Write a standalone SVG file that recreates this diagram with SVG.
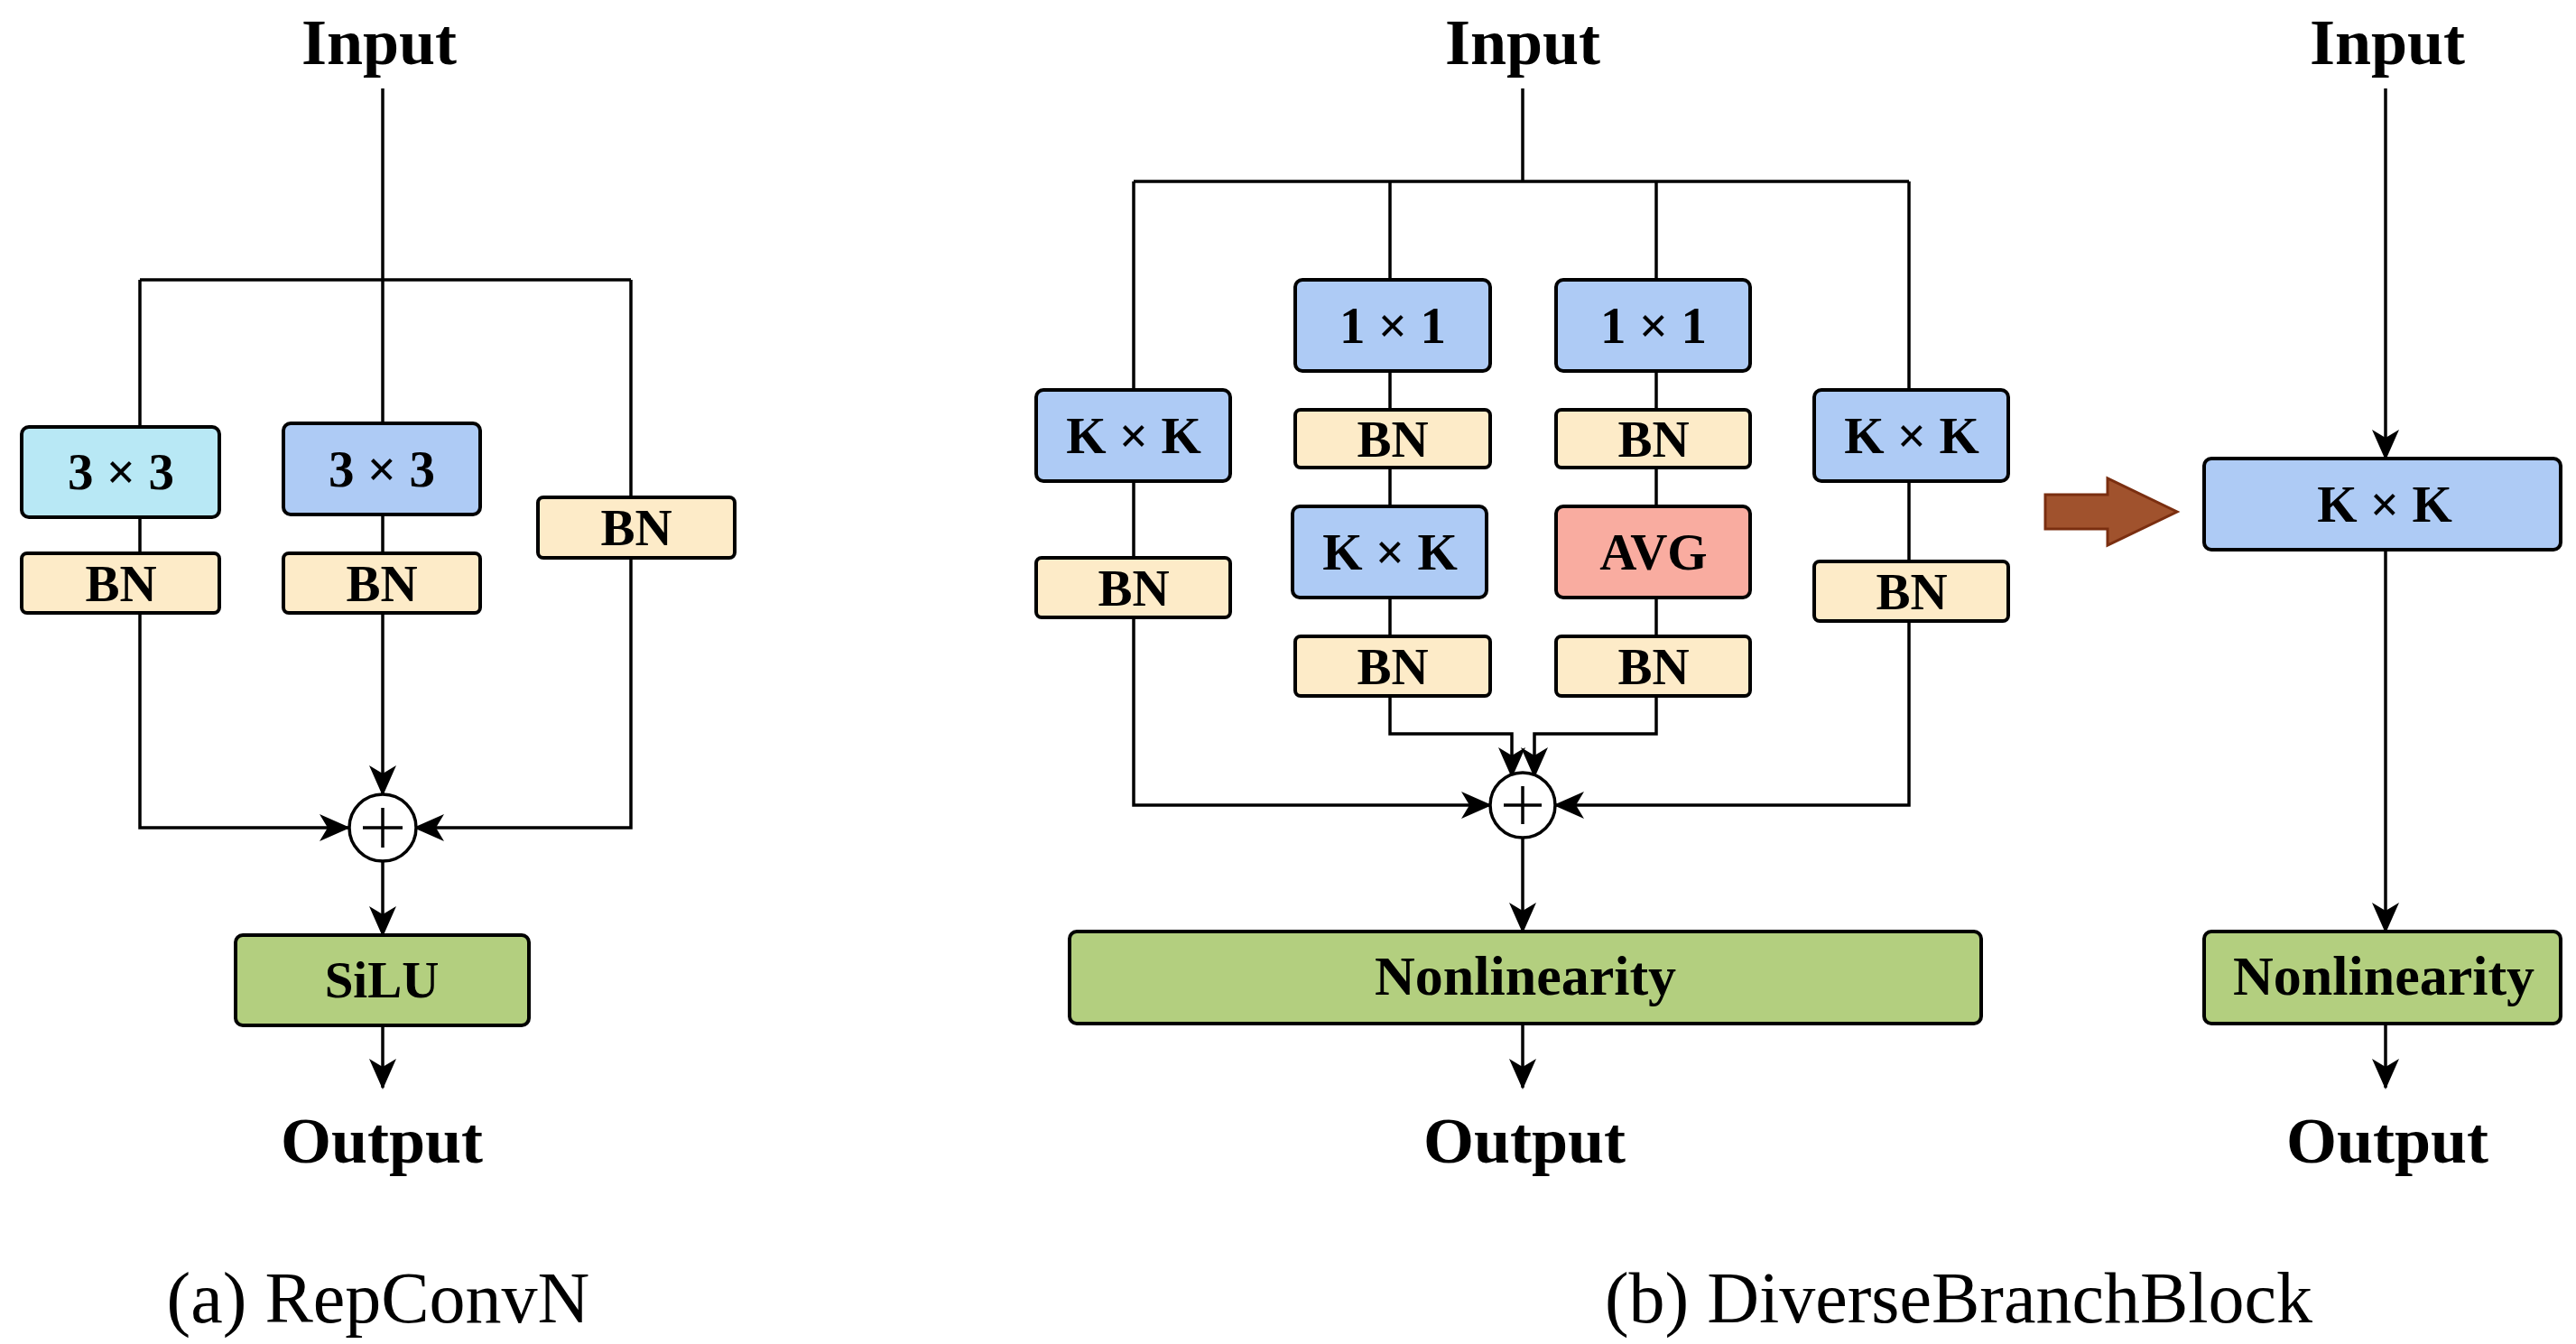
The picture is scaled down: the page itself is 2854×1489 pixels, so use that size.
<svg xmlns="http://www.w3.org/2000/svg" width="2854" height="1489" viewBox="0 0 2854 1489">
<style>
.t{font-family:"Liberation Serif","Times New Roman",serif;font-weight:bold;text-anchor:middle;fill:#000}
.big{font-size:72px}
.lbl{font-size:57px}
.cap{font-family:"Liberation Serif","Times New Roman",serif;font-size:80px;text-anchor:middle;fill:#000}
.box{stroke:#000;stroke-width:4}
.conv{fill:#aecbf5}
.cyan{fill:#b8e8f5}
.bn{fill:#fdebc8}
.avg{fill:#f9aca0}
.act{fill:#b3cf7f}
.ln{fill:none;stroke:#000;stroke-width:3.5}
.ar{marker-end:url(#ah)}
</style>
<defs>
<marker id="ah" markerUnits="userSpaceOnUse" markerWidth="34" markerHeight="30" viewBox="0 0 34 30" refX="32" refY="15" orient="auto">
<path d="M0,0 L34,15 L0,30 L9,15 Z" fill="#000"/>
</marker>
</defs>
<g id="connectors">
<!-- (a) -->
<path class="ln" d="M424,98 V469"/>
<path class="ln" d="M155,310 H699 M155,310 V473 M699,310 V551"/>
<path class="ln" d="M155,573 V613 M424,570 V613"/>
<path class="ln ar" d="M155,679 V917 H386"/>
<path class="ln ar" d="M699,618 V917 H460"/>
<path class="ln ar" d="M424,679 V880"/>
<path class="ln ar" d="M424,954 V1036"/>
<path class="ln ar" d="M424,1136 V1205"/>
<!-- (b) -->
<path class="ln" d="M1687,98 V201 M1256,201 H2115 M1256,201 V432 M1540,201 V310 M1835,201 V310 M2115,201 V432"/>
<path class="ln" d="M1256,533 V618 M2115,533 V622 M1540,411 V454 M1540,518 V561 M1540,662 V705 M1835,411 V454 M1835,518 V561 M1835,662 V705"/>
<path class="ln ar" d="M1256,684 V892 H1651"/>
<path class="ln ar" d="M2115,688 V892 H1723"/>
<path class="ln ar" d="M1540,771 V813 H1675 V860"/>
<path class="ln ar" d="M1835,771 V813 H1700 V860"/>
<path class="ln ar" d="M1687,928 V1032"/>
<path class="ln ar" d="M1687,1134 V1205"/>
<!-- (c) -->
<path class="ln ar" d="M2643,98 V508"/>
<path class="ln ar" d="M2643,609 V1032"/>
<path class="ln ar" d="M2643,1134 V1205"/>
</g>
<g id="a-input"><text class="t big" x="420" y="71">Input</text></g>
<g id="a-conv1"><rect class="box cyan" x="24" y="473" width="219" height="100" rx="8"/><text class="t lbl" x="134" y="542">3 × 3</text></g>
<g id="a-conv2"><rect class="box conv" x="314" y="469" width="218" height="101" rx="8"/><text class="t lbl" x="423" y="539">3 × 3</text></g>
<g id="a-bn1"><rect class="box bn" x="24" y="613" width="219" height="66" rx="6"/><text class="t lbl" x="134" y="666">BN</text></g>
<g id="a-bn2"><rect class="box bn" x="314" y="613" width="218" height="66" rx="6"/><text class="t lbl" x="423" y="666">BN</text></g>
<g id="a-bn3"><rect class="box bn" x="596" y="551" width="218" height="67" rx="6"/><text class="t lbl" x="705" y="604">BN</text></g>
<g id="a-add"><circle cx="424" cy="917" r="37" fill="#fff" stroke="#000" stroke-width="3.5"/><path class="ln" d="M402,917 H446 M424,895 V939"/></g>
<g id="a-silu"><rect class="box act" x="261" y="1036" width="325" height="100" rx="8"/><text class="t lbl" x="423" y="1105">SiLU</text></g>
<g id="a-output"><text class="t big" x="423" y="1288">Output</text></g>
<g id="a-caption"><text class="cap" x="419" y="1465">(a) RepConvN</text></g>
<g id="b-input"><text class="t big" x="1687" y="71">Input</text></g>
<g id="b-kk1"><rect class="box conv" x="1148" y="432" width="215" height="101" rx="8"/><text class="t lbl" x="1256" y="502">K × K</text></g>
<g id="b-bn1"><rect class="box bn" x="1148" y="618" width="215" height="66" rx="6"/><text class="t lbl" x="1256" y="671">BN</text></g>
<g id="b-c11a"><rect class="box conv" x="1435" y="310" width="216" height="101" rx="8"/><text class="t lbl" x="1543" y="380">1 × 1</text></g>
<g id="b-bn2"><rect class="box bn" x="1435" y="454" width="216" height="64" rx="6"/><text class="t lbl" x="1543" y="506">BN</text></g>
<g id="b-kk2"><rect class="box conv" x="1432" y="561" width="215" height="101" rx="8"/><text class="t lbl" x="1540" y="631">K × K</text></g>
<g id="b-bn3"><rect class="box bn" x="1435" y="705" width="216" height="66" rx="6"/><text class="t lbl" x="1543" y="758">BN</text></g>
<g id="b-c11b"><rect class="box conv" x="1724" y="310" width="215" height="101" rx="8"/><text class="t lbl" x="1832" y="380">1 × 1</text></g>
<g id="b-bn4"><rect class="box bn" x="1724" y="454" width="215" height="64" rx="6"/><text class="t lbl" x="1832" y="506">BN</text></g>
<g id="b-avg"><rect class="box avg" x="1724" y="561" width="215" height="101" rx="8"/><text class="t lbl" x="1832" y="631">AVG</text></g>
<g id="b-bn5"><rect class="box bn" x="1724" y="705" width="215" height="66" rx="6"/><text class="t lbl" x="1832" y="758">BN</text></g>
<g id="b-kk3"><rect class="box conv" x="2010" y="432" width="215" height="101" rx="8"/><text class="t lbl" x="2118" y="502">K × K</text></g>
<g id="b-bn6"><rect class="box bn" x="2010" y="622" width="215" height="66" rx="6"/><text class="t lbl" x="2118" y="675">BN</text></g>
<g id="b-add"><circle cx="1687" cy="892" r="36" fill="#fff" stroke="#000" stroke-width="3.5"/><path class="ln" d="M1666,892 H1708 M1687,871 V913"/></g>
<g id="b-nonlin"><rect class="box act" x="1185" y="1032" width="1010" height="102" rx="8"/><text class="t lbl" x="1690" y="1102" style="font-size:62px">Nonlinearity</text></g>
<g id="b-output"><text class="t big" x="1689" y="1288">Output</text></g>
<g id="b-caption"><text class="cap" x="2170" y="1465">(b) DiverseBranchBlock</text></g>
<g id="transform-arrow"><path d="M2266,548 H2335 V530 L2412,567 L2335,604 V586 H2266 Z" fill="#a0522d" stroke="#7a2e10" stroke-width="3"/></g>
<g id="c-input"><text class="t big" x="2645" y="71">Input</text></g>
<g id="c-kk"><rect class="box conv" x="2442" y="508" width="395" height="101" rx="8"/><text class="t lbl" x="2642" y="578">K × K</text></g>
<g id="c-nonlin"><rect class="box act" x="2442" y="1032" width="395" height="102" rx="8"/><text class="t lbl" x="2641" y="1102" style="font-size:62px">Nonlinearity</text></g>
<g id="c-output"><text class="t big" x="2645" y="1288">Output</text></g>
</svg>
